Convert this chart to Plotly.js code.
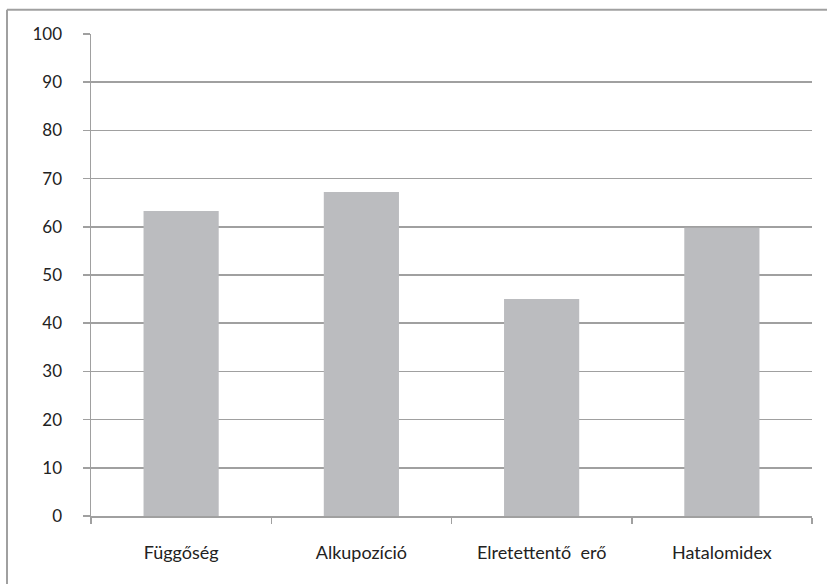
<!DOCTYPE html>
<html>
<head>
<meta charset="utf-8">
<script src="https://cdn.plot.ly/plotly-3.0.1.min.js"></script>
<style>
html,body{margin:0;padding:0;background:#fff;}
#chart{width:827px;height:584px;}
</style>
</head>
<body>
<div id="chart"></div>
<script>
const categories = ["Függőség", "Alkupozíció", "Elretettentő  erő", "Hatalomidex"];
const values = [63.3, 67.2, 45.0, 59.8];
const yTickValues = [0, 10, 20, 30, 40, 50, 60, 70, 80, 90, 100];

const fontFam = "Lato, 'Open Sans', 'DejaVu Sans', sans-serif";

const trace = {
  type: "bar",
  x: categories,
  y: values,
  marker: {color: "#bbbcbf", line: {width: 0}},
  hoverinfo: "skip"
};

const layout = {
  width: 827,
  height: 584,
  margin: {l: 91, r: 15, t: 34, b: 68},
  paper_bgcolor: "#ffffff",
  plot_bgcolor: "#ffffff",
  showlegend: false,
  bargap: 0.583,
  font: {family: fontFam, size: 17, color: "#222"},
  xaxis: {
    type: "category",
    tickson: "boundaries",
    ticks: "outside",
    ticklen: 6,
    tickwidth: 1.5,
    tickcolor: "#a0a0a0",
    showline: true,
    linecolor: "#a0a0a0",
    linewidth: 1.5,
    showgrid: false,
    ticklabelstandoff: 20,
    tickfont: {family: fontFam, size: 18, color: "#222"}
  },
  yaxis: {
    range: [0, 100],
    tickvals: yTickValues,
    ticktext: yTickValues.map(String),
    ticks: "outside",
    ticklen: 7,
    tickwidth: 1.5,
    tickcolor: "#a0a0a0",
    showline: true,
    linecolor: "#a0a0a0",
    linewidth: 1.5,
    showgrid: true,
    gridcolor: "#a0a0a0",
    gridwidth: 1.5,
    zeroline: false,
    ticklabelstandoff: 17,
    tickfont: {family: fontFam, size: 17, color: "#222"}
  },
  shapes: [
    {type: "line", xref: "paper", yref: "paper", x0: -0.1165, x1: 1.1, y0: 1.0503, y1: 1.0503,
     line: {color: "#a0a0a0", width: 2}},
    {type: "line", xref: "paper", yref: "paper", x0: -0.1165, x1: -0.1165, y0: -0.2, y1: 1.0503,
     line: {color: "#a0a0a0", width: 2}}
  ]
};

Plotly.newPlot("chart", [trace], layout, {displayModeBar: false, staticPlot: true});
</script>
</body>
</html>
